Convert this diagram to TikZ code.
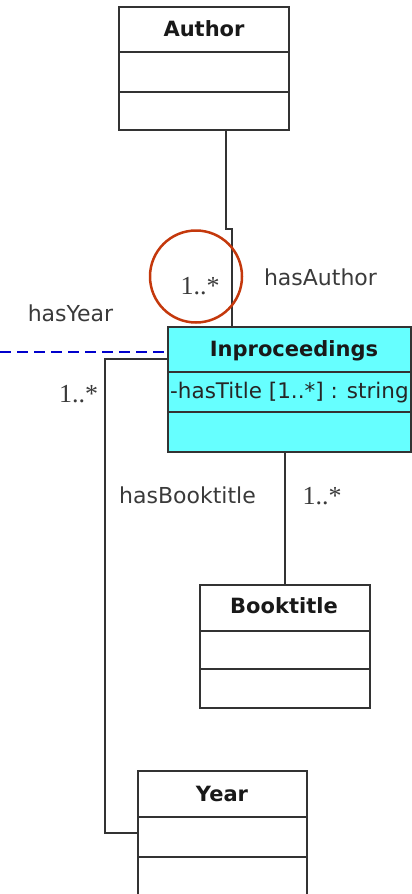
\documentclass[tikz,border=0pt]{standalone}
\usepackage{fontspec}
\setmainfont{DejaVu Sans}
\newfontfamily\serifnum{Liberation Serif}
\definecolor{boxline}{HTML}{333333}
\definecolor{cyanfill}{HTML}{66FFFF}
\definecolor{dashblue}{HTML}{0000CC}
\definecolor{ringred}{HTML}{C4380C}
\definecolor{labelgray}{HTML}{3A3A3A}
\begin{document}
\begin{tikzpicture}[x=1pt,y=-1pt,
  umlbox/.style={draw=boxline, line width=1.4pt, rectangle, inner sep=0pt},
  cmpline/.style={draw=boxline, line width=1.4pt},
  title/.style={font=\fontsize{21}{25}\selectfont\bfseries, text=black!90, anchor=base, inner sep=0pt},
  attr/.style={font=\fontsize{21.5}{25}\selectfont, text=black!85, anchor=base west, inner sep=0pt},
  lbl/.style={font=\fontsize{22}{26}\selectfont, text=labelgray, anchor=base, inner sep=0pt},
  mult/.style={font=\serifnum\fontsize{26}{29}\selectfont, text=labelgray, anchor=base, inner sep=0pt},
  conn/.style={draw=boxline, line width=1.2pt}
]
\useasboundingbox (0,0) rectangle (412,894);

\coordinate (ajog1) at (226,229);
\coordinate (ajog2) at (232,229);
\coordinate (ybend1) at (105,359);
\coordinate (ybend2) at (105,833);

% Author
\node[umlbox, minimum width=170pt, minimum height=123pt] (author) at (204,68.5) {};
\draw[cmpline] (119,52) -- (289,52);
\draw[cmpline] (119,92) -- (289,92);
\node[title] (authorT) at (204,36) {Author};

% Inproceedings
\node[umlbox, fill=cyanfill, minimum width=243pt, minimum height=125pt] (inproc) at (289.5,389.5) {};
\draw[cmpline] (168,372) -- (411,372);
\draw[cmpline] (168,412) -- (411,412);
\node[title] (inprocT) at (294,356) {Inproceedings};
\node[attr] (inprocA) at (170,398) {-hasTitle [1..*] : string};

% Booktitle
\node[umlbox, minimum width=170pt, minimum height=123pt] (book) at (285,646.5) {};
\draw[cmpline] (200,631) -- (370,631);
\draw[cmpline] (200,669) -- (370,669);
\node[title] (bookT) at (284,613) {Booktitle};

% Year
\node[umlbox, minimum width=169pt, minimum height=126pt] (year) at (222.5,834) {};
\draw[cmpline] (138,817) -- (307,817);
\draw[cmpline] (138,857) -- (307,857);
\node[title] (yearT) at (222,801) {Year};

% connectors
\draw[conn] (author.south -| ajog1) -- (ajog1) -- (ajog2) -- (inproc.north -| ajog2);
\draw[conn] (inproc.west |- ybend1) -- (ybend1) -- (ybend2) -- (year.west |- ybend2);
\coordinate (bx) at (285,0);
\draw[conn] (inproc.south -| bx) -- (book.north -| bx);
\coordinate (dashstart) at (0,352);
\draw[dashblue, line width=1.5pt, dash pattern=on 11pt off 6pt] (dashstart) -- (inproc.west |- dashstart);

% labels
\node[lbl] (hasAuthor) at (320.5,285) {hasAuthor};
\node[lbl] (hasYear) at (70.5,321) {hasYear};
\node[lbl] (hasBook) at (187.5,503) {hasBooktitle};
\node[mult] (m1) at (200,294) {1..*};
\node[mult] (m2) at (78.5,402) {1..*};
\node[mult] (m3) at (322,504) {1..*};

% highlight ring
\node[draw=ringred, line width=2.5pt, circle, minimum size=92pt, inner sep=0pt] (ring) at (196,276.5) {};
\end{tikzpicture}
\end{document}
